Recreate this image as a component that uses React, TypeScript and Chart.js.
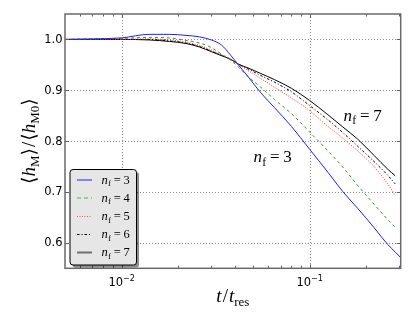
import React, { useEffect, useRef } from "react";
import { Chart, registerables } from "chart.js";
Chart.register(...registerables);

// ---- data ----
const times = [0.005, 0.007, 0.01, 0.014, 0.018, 0.022, 0.026, 0.03, 0.034, 0.038, 0.042, 0.047, 0.055, 0.065, 0.08, 0.1, 0.125, 0.15, 0.18, 0.22, 0.26, 0.285];
const timesNf3 = [0.005, 0.007, 0.01, 0.014, 0.018, 0.022, 0.026, 0.03, 0.034, 0.038, 0.042, 0.047, 0.055, 0.065, 0.08, 0.1, 0.125, 0.15, 0.18, 0.22, 0.26, 0.285, 0.305];
const nf3 = [1.0, 1.001, 1.003, 1.01, 1.01, 1.008, 1.005, 0.999, 0.989, 0.969, 0.949, 0.927, 0.895, 0.866, 0.829, 0.784, 0.739, 0.701, 0.668, 0.63, 0.597, 0.582, 0.571];
const nf4 = [1.0, 1.001, 1.002, 1.004, 1.003, 0.998, 0.993, 0.984, 0.971, 0.959, 0.945, 0.927, 0.906, 0.882, 0.854, 0.818, 0.781, 0.749, 0.713, 0.676, 0.646, 0.631];
const nf5 = [1.0, 1.0, 1.0, 1.001, 0.999, 0.995, 0.988, 0.979, 0.97, 0.961, 0.95, 0.939, 0.923, 0.906, 0.885, 0.86, 0.829, 0.806, 0.781, 0.75, 0.716, 0.694];
const nf6 = [1.0, 1.0, 1.0, 1.0, 0.997, 0.993, 0.986, 0.977, 0.969, 0.961, 0.951, 0.942, 0.929, 0.916, 0.897, 0.87, 0.842, 0.817, 0.79, 0.76, 0.733, 0.716];
const nf7 = [1.0, 1.0, 1.0, 0.999, 0.996, 0.992, 0.985, 0.976, 0.968, 0.961, 0.951, 0.944, 0.933, 0.921, 0.904, 0.88, 0.852, 0.828, 0.804, 0.772, 0.745, 0.732];

const seriesNames = ["3", "4", "5", "6", "7"];
const xMajorTicks = [0.01, 0.1];
const xMajorExponents = ["\u22122", "\u22121"];
const xMinorTicks = [0.006, 0.007, 0.008, 0.009, 0.02, 0.03, 0.04, 0.05, 0.06, 0.07, 0.08, 0.09, 0.2, 0.3];
const yTicks = [0.6, 0.7, 0.8, 0.9, 1.0];
const yTickLabels = ["0.6", "0.7", "0.8", "0.9", "1.0"];

const colors = ["#1f1fff", "#2e9a2e", "#ff2a2a", "#000000", "#000000"];
const dashes = [[], [3, 3], [1, 1.5], [2.5, 2, 1, 2], []];

const SERIF = '"Liberation Serif", "DejaVu Serif", serif';

function drawNf(ctx: CanvasRenderingContext2D, x: number, y: number, value: string, size: number) {
  let cx = x;
  ctx.textAlign = "left";
  ctx.textBaseline = "alphabetic";
  ctx.font = `italic ${size}px ${SERIF}`;
  ctx.fillText("n", cx, y);
  cx += ctx.measureText("n").width + size * 0.02;
  ctx.font = `${size * 0.7}px ${SERIF}`;
  ctx.fillText("f", cx, y + size * 0.22);
  cx += ctx.measureText("f").width + size * 0.22;
  ctx.font = `${size}px ${SERIF}`;
  ctx.fillText("=", cx, y);
  cx += ctx.measureText("=").width + size * 0.22;
  ctx.fillText(value, cx, y);
}

type Part = { t: string; font: string; dy?: number; gap?: number };
function partsWidth(ctx: CanvasRenderingContext2D, parts: Part[]) {
  let w = 0;
  for (const p of parts) {
    ctx.font = p.font;
    w += ctx.measureText(p.t).width + (p.gap || 0);
  }
  return w;
}
function drawParts(ctx: CanvasRenderingContext2D, parts: Part[], x: number, y: number) {
  let cx = x;
  ctx.textAlign = "left";
  ctx.textBaseline = "alphabetic";
  for (const p of parts) {
    ctx.font = p.font;
    ctx.fillText(p.t, cx, y + (p.dy || 0));
    cx += ctx.measureText(p.t).width + (p.gap || 0);
  }
}

const decorPlugin = {
  id: "decor",
  beforeDatasetsDraw(chart: any) {
    const { ctx, chartArea: a, scales } = chart;
    const xs = scales.x, ys = scales.y;
    ctx.save();
    ctx.strokeStyle = "#8a8a8a";
    ctx.lineWidth = 1;
    ctx.setLineDash([1, 2]);
    for (const v of xMajorTicks) {
      const px = Math.round(xs.getPixelForValue(v)) + 0.5;
      ctx.beginPath(); ctx.moveTo(px, a.top); ctx.lineTo(px, a.bottom); ctx.stroke();
    }
    for (const v of yTicks) {
      const py = Math.round(ys.getPixelForValue(v)) + 0.5;
      ctx.beginPath(); ctx.moveTo(a.left, py); ctx.lineTo(a.right, py); ctx.stroke();
    }
    ctx.restore();
  },
  afterDraw(chart: any) {
    const { ctx, chartArea: a, scales } = chart;
    const xs = scales.x, ys = scales.y;
    ctx.save();
    // ticks
    ctx.strokeStyle = "#606060";
    ctx.lineWidth = 1;
    ctx.setLineDash([]);
    const tick = (x1: number, y1: number, x2: number, y2: number) => {
      ctx.beginPath(); ctx.moveTo(x1, y1); ctx.lineTo(x2, y2); ctx.stroke();
    };
    for (const v of xMajorTicks) {
      const px = Math.round(xs.getPixelForValue(v)) + 0.5;
      tick(px, a.bottom, px, a.bottom - 4);
      tick(px, a.top, px, a.top + 4);
    }
    for (const v of xMinorTicks) {
      const px = Math.round(xs.getPixelForValue(v)) + 0.5;
      tick(px, a.bottom, px, a.bottom - 2.5);
      tick(px, a.top, px, a.top + 2.5);
    }
    for (const v of yTicks) {
      const py = Math.round(ys.getPixelForValue(v)) + 0.5;
      tick(a.left, py, a.left + 4, py);
      tick(a.right, py, a.right - 4, py);
    }
    // frame
    ctx.strokeStyle = "#6a6a6a";
    ctx.lineWidth = 1.5;
    ctx.strokeRect(a.left, a.top, a.right - a.left, a.bottom - a.top);

    // tick labels
    ctx.fillStyle = "#000";
    ctx.font = '11.5px "DejaVu Sans"';
    ctx.textAlign = "right";
    ctx.textBaseline = "middle";
    yTicks.forEach((v, i) => {
      ctx.fillText(yTickLabels[i], a.left - 2.5, ys.getPixelForValue(v) + 0.5);
    });
    xMajorTicks.forEach((v, i) => {
      const parts: Part[] = [
        { t: "10", font: '11.5px "DejaVu Sans"' },
        { t: xMajorExponents[i], font: '8px "DejaVu Sans"', dy: -5 },
      ];
      const w = partsWidth(ctx, parts);
      drawParts(ctx, parts, xs.getPixelForValue(v) - w / 2, 286);
    });

    // x axis title  t / t_res
    const xt: Part[] = [
      { t: "t", font: `italic 19px ${SERIF}`, gap: 1 },
      { t: "/", font: `19px ${SERIF}`, gap: 1 },
      { t: "t", font: `italic 19px ${SERIF}` },
      { t: "res", font: `13px ${SERIF}`, dy: 4 },
    ];
    const xw = partsWidth(ctx, xt);
    drawParts(ctx, xt, (a.left + a.right) / 2 - xw / 2, 301.5);

    // y axis title  <h_M>/<h_M0>
    const br = '19px "DejaVu Sans"';
    const yt: Part[] = [
      { t: "\u27e8", font: br },
      { t: "h", font: `italic 19px ${SERIF}` },
      { t: "M", font: `13px ${SERIF}`, dy: 4 },
      { t: "\u27e9", font: br, gap: 1 },
      { t: "/", font: `19px ${SERIF}`, gap: 1 },
      { t: "\u27e8", font: br },
      { t: "h", font: `italic 19px ${SERIF}` },
      { t: "M0", font: `13px ${SERIF}`, dy: 4 },
      { t: "\u27e9", font: br },
    ];
    const yw = partsWidth(ctx, yt);
    ctx.save();
    ctx.translate(35, (a.top + a.bottom) / 2);
    ctx.rotate(-Math.PI / 2);
    drawParts(ctx, yt, -yw / 2, 0);
    ctx.restore();

    // annotations
    ctx.fillStyle = "#000";
    drawNf(ctx, 343.5, 120.5, "7", 17);
    drawNf(ctx, 253.5, 162, "3", 17);

    // legend
    const lx = 70, ly = 169.5, lw = 66.5, lh = 95.5;
    const rr = (x: number, y: number, w: number, h: number, r: number) => {
      ctx.beginPath();
      ctx.moveTo(x + r, y);
      ctx.lineTo(x + w - r, y); ctx.quadraticCurveTo(x + w, y, x + w, y + r);
      ctx.lineTo(x + w, y + h - r); ctx.quadraticCurveTo(x + w, y + h, x + w - r, y + h);
      ctx.lineTo(x + r, y + h); ctx.quadraticCurveTo(x, y + h, x, y + h - r);
      ctx.lineTo(x, y + r); ctx.quadraticCurveTo(x, y, x + r, y);
      ctx.closePath();
    };
    ctx.fillStyle = "rgba(0,0,0,0.45)";
    rr(lx + 2.5, ly + 2.5, lw, lh, 3); ctx.fill();
    ctx.fillStyle = "#e6e6e6";
    rr(lx, ly, lw, lh, 3); ctx.fill();
    ctx.strokeStyle = "#000"; ctx.lineWidth = 1;
    rr(lx, ly, lw, lh, 3); ctx.stroke();

    const rowY = [179.5, 197.5, 216, 234, 252];
    seriesNames.forEach((name, i) => {
      const y = rowY[i];
      ctx.save();
      ctx.strokeStyle = i === 4 ? "#707070" : colors[i];
      ctx.lineWidth = i === 4 ? 2 : 1;
      if (i === 2) ctx.strokeStyle = "#ff5050";
      if (i === 1) ctx.strokeStyle = "#55b055";
      ctx.setLineDash(i === 1 ? [4, 3] : dashes[i]);
      ctx.beginPath(); ctx.moveTo(77, y + 0.5); ctx.lineTo(92, y + 0.5); ctx.stroke();
      ctx.restore();
      ctx.fillStyle = "#000";
      drawNf(ctx, 101.5, y + 4, name, 12.5);
    });
    ctx.restore();
  },
};

export default function App() {
  const ref = useRef<HTMLCanvasElement | null>(null);
  useEffect(() => {
    if (!ref.current) return;
    const series = [nf3, nf4, nf5, nf6, nf7];
    const datasets = series.map((vals, i) => ({
      label: "n_f=" + seriesNames[i],
      data: vals.map((v, j) => ({ x: (i === 0 ? timesNf3 : times)[j], y: v })),
      borderColor: colors[i],
      borderWidth: 1,
      borderDash: dashes[i],
      pointRadius: 0,
      fill: false,
      cubicInterpolationMode: "monotone" as const,
    }));
    const chart = new Chart(ref.current, {
      type: "line",
      data: { datasets },
      options: {
        animation: false,
        responsive: false,
        maintainAspectRatio: false,
        layout: { padding: { left: 65, top: 14, right: 14.3, bottom: 44.7 } },
        scales: {
          x: { type: "logarithmic", min: 0.005, max: 0.305, display: false },
          y: { type: "linear", min: 0.55, max: 1.05, display: false },
        },
        plugins: { legend: { display: false }, tooltip: { enabled: false } },
      },
      plugins: [decorPlugin],
    });
    return () => chart.destroy();
  }, []);
  return (
    <div style={{ position: "fixed", left: 0, top: 0, width: 415, height: 313, background: "#fff" }}>
      <canvas ref={ref} width={415} height={313} style={{ width: 415, height: 313, display: "block" }} />
    </div>
  );
}
